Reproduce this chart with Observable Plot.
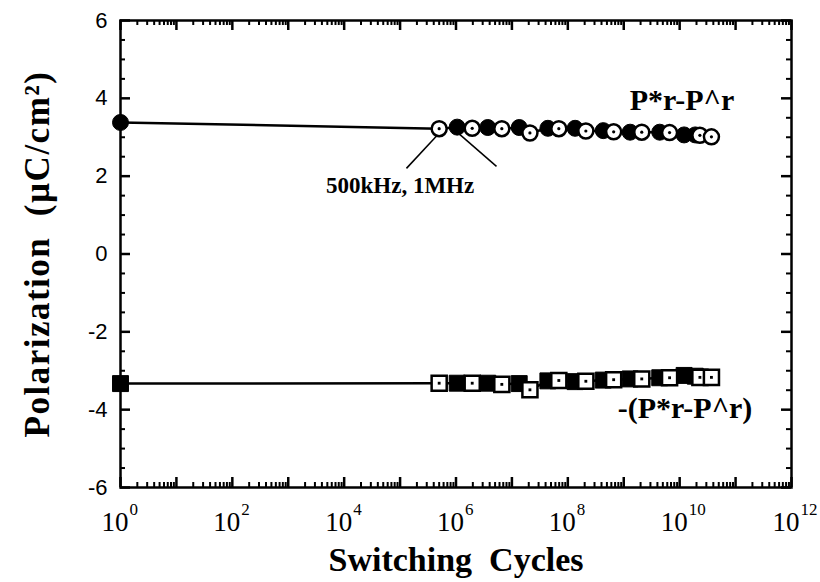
<!DOCTYPE html>
<html>
<head>
<meta charset="utf-8">
<script src="https://cdn.jsdelivr.net/npm/d3@7"></script>
<script src="https://cdn.jsdelivr.net/npm/@observablehq/plot@0.6"></script>
<style>
  html, body { margin: 0; padding: 0; background: white; }
</style>
</head>
<body>
<div id="chart"></div>
<script>
// Switching cycles of filled markers (1 MHz, plus initial point) and open markers (500 kHz)
const cyclesFilled = [1, 1.05e6, 3.7e6, 1.35e7, 4.4e7, 1.35e8, 4.3e8, 1.3e9, 4.4e9, 1.2e10, 1.9e10];
const cyclesOpen = [5e5, 1.95e6, 6.6e6, 2.1e7, 6.9e7, 2.1e8, 6.6e8, 2.1e9, 6.6e9, 2.3e10, 3.7e10];
// P*r - P^r (circles)
const topFilled = [3.38, 3.26, 3.25, 3.25, 3.23, 3.23, 3.17, 3.13, 3.13, 3.06, 3.06];
const topOpen = [3.22, 3.23, 3.22, 3.11, 3.22, 3.16, 3.14, 3.13, 3.12, 3.05, 3.01];
// -(P*r - P^r) (squares)
const botFilled = [-3.33, -3.32, -3.32, -3.33, -3.26, -3.28, -3.24, -3.21, -3.18, -3.12, -3.14];
const botOpen = [-3.32, -3.32, -3.35, -3.49, -3.25, -3.27, -3.23, -3.21, -3.18, -3.17, -3.17];

// Ticks
const xMajor = d3.range(0, 13).map(e => Math.pow(10, e));
const xLabels = [0, 2, 4, 6, 8, 10, 12].map(e => Math.pow(10, e));
const xMinor = d3.range(0, 12).flatMap(e => d3.range(2, 10).map(m => m * Math.pow(10, e)));
const yMajor = [-6, -4, -2, 0, 2, 4, 6];
const yMinor = d3.range(-6, 6.01, 0.5).filter(v => !yMajor.includes(v));

// Annotations
const seriesLabels = [
  {x: 1.1e10, y: 3.95, text: "P*r-P^r"},
  {x: 1.25e10, y: -3.97, text: "-(P*r-P^r)"}
];
const freqLabels = [
  {x: 1.0e5, y: 1.76, text: "500kHz, 1MHz"}
];
const leaders = [
  {x1: 4.8e5, y1: 3.08, x2: 1.3e5, y2: 2.2},
  {x1: 1.15e6, y1: 3.08, x2: 5.3e6, y2: 2.25}
];

const filledTop = cyclesFilled.map((c, i) => ({c, p: topFilled[i]}));
const openTop = cyclesOpen.map((c, i) => ({c, p: topOpen[i]}));
const filledBot = cyclesFilled.map((c, i) => ({c, p: botFilled[i]}));
const openBot = cyclesOpen.map((c, i) => ({c, p: botOpen[i]}));
const lineTop = [...filledTop, ...openTop].sort((a, b) => a.c - b.c);
const lineBot = [...filledBot, ...openBot].sort((a, b) => a.c - b.c);

const serif = "'Liberation Serif', 'Times New Roman', serif";
const sans = "'Liberation Sans', Arial, sans-serif";

const plotW = 820, plotH = 582, mL = 120, mR = 29, mT = 20, mB = 95;
const frameW = plotW - mL - mR, frameH = plotH - mT - mB;
const bigLen = 10, smallLen = 5;

const chart = Plot.plot({
  width: plotW,
  height: plotH,
  marginLeft: mL,
  marginRight: mR,
  marginTop: mT,
  marginBottom: mB,
  x: {type: "log", domain: [1, 1e12], axis: null},
  y: {domain: [-6, 6], axis: null},
  marks: [
    // frame
    Plot.frame({stroke: "black", strokeWidth: 2.5}),
    // inward ticks on all four sides
    Plot.tickX(xMajor, {x: d => d, insetTop: frameH - bigLen, stroke: "black", strokeWidth: 2.5}),
    Plot.tickX(xMinor, {x: d => d, insetTop: frameH - smallLen, stroke: "black", strokeWidth: 2}),
    Plot.tickX(xMajor, {x: d => d, insetBottom: frameH - bigLen, stroke: "black", strokeWidth: 2.5}),
    Plot.tickX(xMinor, {x: d => d, insetBottom: frameH - smallLen, stroke: "black", strokeWidth: 2}),
    Plot.tickY(yMajor, {y: d => d, insetRight: frameW - bigLen, stroke: "black", strokeWidth: 2.5}),
    Plot.tickY(yMinor, {y: d => d, insetRight: frameW - smallLen, stroke: "black", strokeWidth: 2}),
    Plot.tickY(yMajor, {y: d => d, insetLeft: frameW - bigLen, stroke: "black", strokeWidth: 2.5}),
    Plot.tickY(yMinor, {y: d => d, insetLeft: frameW - smallLen, stroke: "black", strokeWidth: 2}),
    // y tick labels
    Plot.text(yMajor, {y: d => d, frameAnchor: "left", dx: -13, textAnchor: "end", lineAnchor: "middle", text: d => String(d),
      fontSize: 22, fontFamily: sans, fill: "black"}),
    // x tick labels 10^n
    Plot.text(xLabels, {x: d => d, frameAnchor: "bottom", dx: 8, dy: 35, textAnchor: "end", lineAnchor: "middle", text: () => "10",
      fontSize: 27, fontFamily: serif, fill: "black"}),
    Plot.text(xLabels, {x: d => d, frameAnchor: "bottom", dx: 9, dy: 22, textAnchor: "start", lineAnchor: "middle", text: d => String(Math.round(Math.log10(d))),
      fontSize: 17, fontFamily: serif, fill: "black"}),
    // axis titles
    Plot.text(["Polarization  (µC/cm²)"], {frameAnchor: "left", dx: -83, rotate: -90, textAnchor: "middle", lineAnchor: "middle", text: d => d,
      fontSize: 35, fontWeight: "bold", fontFamily: serif, fill: "black"}),
    Plot.text(["Switching  Cycles"], {frameAnchor: "bottom", dy: 73, textAnchor: "middle", lineAnchor: "middle", text: d => d,
      fontSize: 34, fontWeight: "bold", fontFamily: serif, fill: "black"}),
    // lines
    Plot.line(lineTop, {x: "c", y: "p", stroke: "black", strokeWidth: 2.5}),
    Plot.line(lineBot, {x: "c", y: "p", stroke: "black", strokeWidth: 2.5}),
    // leader lines
    Plot.link(leaders, {x1: "x1", y1: "y1", x2: "x2", y2: "y2", stroke: "black", strokeWidth: 1.5}),
    // filled markers
    Plot.dot(filledTop, {x: "c", y: "p", r: 8, symbol: "circle", fill: "black", stroke: "black", strokeWidth: 1}),
    Plot.dot(filledBot, {x: "c", y: "p", r: 9, symbol: "square", fill: "black", stroke: "black", strokeWidth: 1}),
    // open markers
    Plot.dot(openTop, {x: "c", y: "p", r: 7.5, symbol: "circle", fill: "white", stroke: "black", strokeWidth: 2.5}),
    Plot.dot(openTop, {x: "c", y: "p", r: 1.6, fill: "black"}),
    Plot.dot(openBot, {x: "c", y: "p", r: 8.5, symbol: "square", fill: "white", stroke: "black", strokeWidth: 2.5}),
    Plot.dot(openBot, {x: "c", y: "p", r: 1.6, symbol: "square", fill: "black"}),
    // annotations
    Plot.text(seriesLabels, {x: "x", y: "y", text: "text", fontSize: 30, fontWeight: "bold", fontFamily: serif, fill: "black"}),
    Plot.text(freqLabels, {x: "x", y: "y", text: "text", fontSize: 23, fontWeight: "bold", fontFamily: serif, fill: "black"})
  ]
});
d3.select(chart).selectAll("text")
  .filter(function() { return this.textContent.startsWith("Polarization"); })
  .attr("letter-spacing", "1.5px");
document.getElementById("chart").appendChild(chart);
</script>
</body>
</html>
